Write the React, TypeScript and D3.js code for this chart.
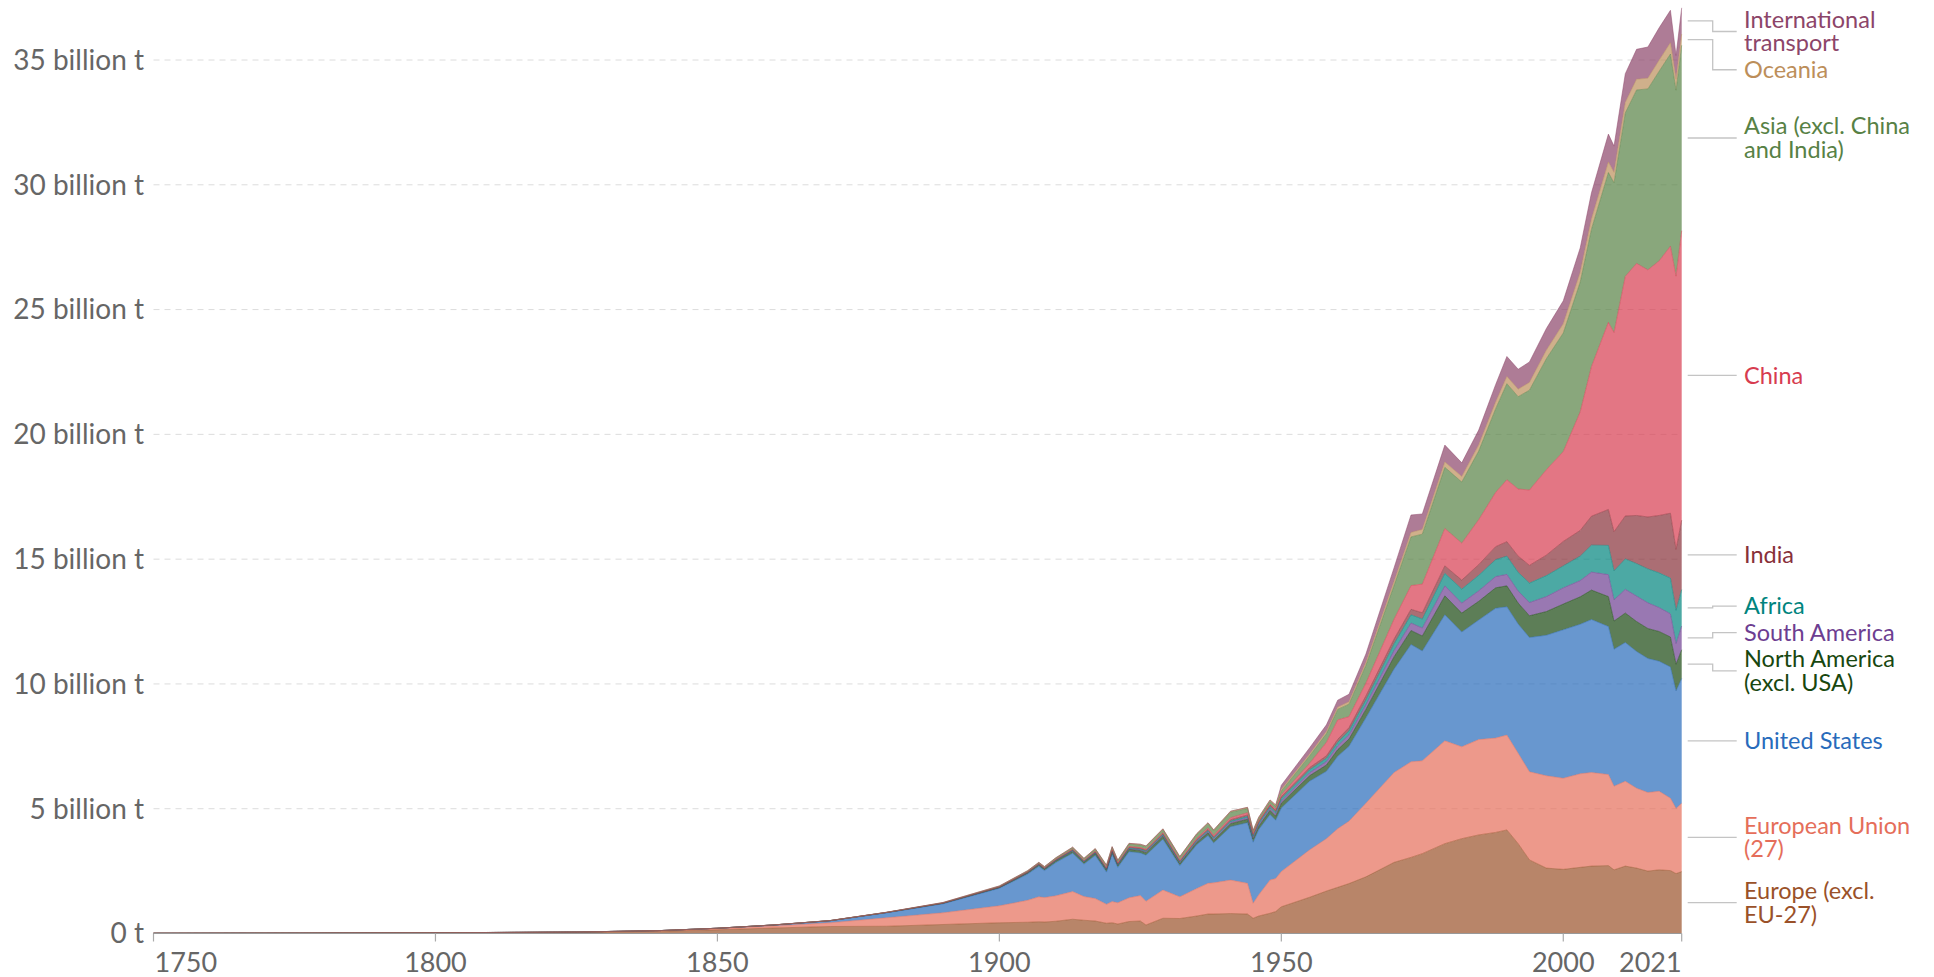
import React, { useEffect, useRef } from "react";
import * as d3 from "d3";

// yearly CO2 emissions by world region, billion tonnes
const years = [
  1750, 1775, 1800, 1825, 1840, 1850, 1860, 1870, 1880, 1890, 1900, 1905, 1907, 1908, 1910, 1913,
  1915, 1917, 1919, 1920, 1921, 1923, 1925, 1926, 1929, 1932, 1935, 1937, 1938, 1941, 1944, 1945,
  1946, 1948, 1949, 1950, 1955, 1958, 1960, 1962, 1965, 1970, 1973, 1975, 1979, 1982, 1985, 1988,
  1990, 1992, 1994, 1997, 2000, 2003, 2005, 2008, 2009, 2011, 2013, 2015, 2017, 2019, 2020, 2021,
];

const europeExclEU = [
  0.009, 0.014, 0.027, 0.05, 0.09, 0.15, 0.22, 0.28, 0.29, 0.36, 0.43, 0.45, 0.47, 0.46, 0.49, 0.57,
  0.53, 0.5, 0.41, 0.43, 0.38, 0.48, 0.5, 0.34, 0.61, 0.6, 0.7, 0.78, 0.78, 0.8, 0.78, 0.61,
  0.7, 0.81, 0.88, 1.07, 1.45, 1.7, 1.85, 2.0, 2.27, 2.85, 3.05, 3.2, 3.6, 3.8, 3.95, 4.05,
  4.15, 3.6, 2.95, 2.62, 2.57, 2.65, 2.7, 2.72, 2.55, 2.7, 2.62, 2.5, 2.55, 2.52, 2.4, 2.48,
];
const europeanUnion = [
  0, 0.001, 0.002, 0.006, 0.02, 0.04, 0.08, 0.15, 0.34, 0.47, 0.68, 0.88, 1.0, 0.98, 1.02, 1.11,
  0.95, 0.9, 0.76, 0.85, 0.85, 0.95, 1.02, 0.95, 1.13, 0.87, 1.1, 1.23, 1.25, 1.34, 1.23, 0.6,
  0.85, 1.33, 1.32, 1.41, 1.9, 2.1, 2.35, 2.5, 2.95, 3.6, 3.83, 3.72, 4.12, 3.68, 3.82, 3.78,
  3.8, 3.62, 3.53, 3.7, 3.65, 3.75, 3.75, 3.65, 3.35, 3.4, 3.2, 3.15, 3.15, 2.9, 2.61, 2.74,
];
const unitedStates = [
  0, 0.0003, 0.0006, 0.002, 0.008, 0.02, 0.04, 0.08, 0.2, 0.36, 0.7, 1.05, 1.22, 1.08, 1.33, 1.54,
  1.3, 1.73, 1.29, 1.89, 1.42, 1.85, 1.71, 1.85, 2.04, 1.25, 1.76, 1.92, 1.6, 2.14, 2.43, 2.45,
  2.62, 2.63, 2.34, 2.55, 2.75, 2.7, 2.9, 3.0, 3.42, 4.15, 4.7, 4.4, 5.05, 4.6, 4.79, 5.2,
  5.14, 5.18, 5.38, 5.63, 5.95, 5.99, 6.13, 5.93, 5.49, 5.56, 5.48, 5.37, 5.21, 5.26, 4.71, 5.0,
];
const northAmericaExclUSA = [
  0, 0, 0, 0.0002, 0.0005, 0.001, 0.002, 0.004, 0.01, 0.02, 0.03, 0.045, 0.055, 0.055, 0.065, 0.08,
  0.07, 0.085, 0.08, 0.09, 0.075, 0.095, 0.09, 0.1, 0.11, 0.08, 0.09, 0.105, 0.1, 0.12, 0.14, 0.13,
  0.13, 0.16, 0.16, 0.19, 0.22, 0.25, 0.27, 0.29, 0.34, 0.49, 0.56, 0.6, 0.76, 0.76, 0.75, 0.82,
  0.84, 0.84, 0.87, 0.95, 1.03, 1.1, 1.18, 1.2, 1.13, 1.18, 1.2, 1.2, 1.19, 1.2, 1.07, 1.15,
];
const southAmerica = [
  0, 0, 0, 0, 0, 0, 0.0005, 0.001, 0.002, 0.004, 0.008, 0.01, 0.012, 0.012, 0.014, 0.018,
  0.015, 0.015, 0.016, 0.02, 0.02, 0.025, 0.03, 0.032, 0.04, 0.035, 0.042, 0.05, 0.05, 0.055, 0.06, 0.06,
  0.065, 0.08, 0.085, 0.09, 0.12, 0.14, 0.15, 0.17, 0.19, 0.25, 0.3, 0.32, 0.4, 0.4, 0.42, 0.45,
  0.46, 0.48, 0.53, 0.6, 0.65, 0.65, 0.72, 0.88, 0.85, 0.95, 1.02, 1.03, 0.96, 0.93, 0.83, 0.95,
];
const africa = [
  0, 0, 0, 0, 0, 0, 0, 0.0005, 0.001, 0.003, 0.006, 0.01, 0.012, 0.012, 0.014, 0.02,
  0.02, 0.02, 0.022, 0.025, 0.024, 0.027, 0.03, 0.032, 0.035, 0.03, 0.037, 0.042, 0.045, 0.05, 0.055, 0.055,
  0.06, 0.07, 0.075, 0.1, 0.12, 0.13, 0.14, 0.16, 0.19, 0.27, 0.33, 0.36, 0.5, 0.56, 0.62, 0.68,
  0.73, 0.75, 0.78, 0.84, 0.88, 0.98, 1.08, 1.17, 1.16, 1.22, 1.3, 1.36, 1.39, 1.43, 1.33, 1.46,
];
const india = [
  0, 0, 0, 0, 0, 0, 0, 0.001, 0.002, 0.005, 0.01, 0.015, 0.017, 0.018, 0.02, 0.022,
  0.025, 0.027, 0.03, 0.033, 0.032, 0.033, 0.035, 0.037, 0.04, 0.037, 0.04, 0.045, 0.05, 0.055, 0.055, 0.055,
  0.06, 0.065, 0.065, 0.07, 0.085, 0.1, 0.12, 0.13, 0.16, 0.19, 0.22, 0.25, 0.3, 0.36, 0.43, 0.52,
  0.58, 0.65, 0.71, 0.82, 0.98, 1.03, 1.16, 1.44, 1.57, 1.72, 1.93, 2.08, 2.3, 2.6, 2.44, 2.78,
];
const china = [
  0, 0, 0, 0, 0, 0, 0, 0, 0, 0.001, 0.002, 0.005, 0.007, 0.007, 0.01, 0.015,
  0.017, 0.02, 0.022, 0.025, 0.025, 0.027, 0.03, 0.03, 0.035, 0.04, 0.05, 0.06, 0.06, 0.08, 0.09, 0.05,
  0.03, 0.04, 0.05, 0.08, 0.17, 0.54, 0.78, 0.44, 0.51, 0.8, 0.95, 1.15, 1.5, 1.48, 1.8, 2.17,
  2.48, 2.69, 3.02, 3.42, 3.6, 4.75, 6.0, 7.5, 7.98, 9.6, 10.1, 9.9, 10.2, 10.7, 10.95, 11.6,
];
const asiaExcl = [
  0, 0, 0, 0, 0, 0, 0.001, 0.002, 0.003, 0.01, 0.025, 0.035, 0.04, 0.04, 0.05, 0.06,
  0.065, 0.08, 0.085, 0.09, 0.085, 0.095, 0.1, 0.105, 0.12, 0.115, 0.15, 0.17, 0.18, 0.22, 0.17, 0.08,
  0.1, 0.11, 0.12, 0.15, 0.3, 0.35, 0.42, 0.5, 0.72, 1.35, 1.95, 2.0, 2.45, 2.45, 2.75, 3.35,
  3.85, 3.7, 4.0, 4.45, 4.75, 5.2, 5.5, 6.0, 6.0, 6.55, 6.95, 7.25, 7.6, 7.7, 7.45, 7.43,
];
const oceania = [
  0, 0, 0, 0, 0, 0.0005, 0.001, 0.002, 0.004, 0.01, 0.015, 0.017, 0.018, 0.018, 0.02, 0.025,
  0.022, 0.024, 0.025, 0.027, 0.026, 0.03, 0.032, 0.032, 0.033, 0.027, 0.032, 0.035, 0.036, 0.04, 0.045, 0.045,
  0.048, 0.055, 0.057, 0.06, 0.07, 0.08, 0.09, 0.095, 0.11, 0.16, 0.18, 0.19, 0.21, 0.22, 0.24, 0.27,
  0.29, 0.3, 0.31, 0.34, 0.37, 0.39, 0.41, 0.42, 0.42, 0.42, 0.43, 0.43, 0.44, 0.45, 0.44, 0.45,
];
const internationalTransport = [
  0, 0, 0, 0, 0, 0, 0, 0, 0, 0, 0, 0, 0, 0, 0, 0,
  0, 0, 0, 0, 0, 0, 0, 0, 0, 0, 0, 0, 0, 0, 0, 0,
  0, 0, 0, 0.17, 0.25, 0.27, 0.28, 0.3, 0.34, 0.55, 0.7, 0.62, 0.68, 0.55, 0.6, 0.7,
  0.8, 0.8, 0.82, 0.87, 0.92, 0.98, 1.05, 1.12, 1.05, 1.15, 1.2, 1.25, 1.3, 1.3, 0.95, 1.05,
];

// bottom to top
const seriesKeys = [
  "europeExclEU", "europeanUnion", "unitedStates", "northAmericaExclUSA", "southAmerica",
  "africa", "india", "china", "asiaExcl", "oceania", "internationalTransport",
];
const seriesValues = [
  europeExclEU, europeanUnion, unitedStates, northAmericaExclUSA, southAmerica,
  africa, india, china, asiaExcl, oceania, internationalTransport,
];
const seriesLabels = [
  ["Europe (excl.", "EU-27)"],
  ["European Union", "(27)"],
  ["United States"],
  ["North America", "(excl. USA)"],
  ["South America"],
  ["Africa"],
  ["India"],
  ["China"],
  ["Asia (excl. China", "and India)"],
  ["Oceania"],
  ["International", "transport"],
];
const seriesColors = [
  "#9A5129", "#E56E5A", "#286BBB", "#18470F", "#6D3E91",
  "#00847E", "#883039", "#D73C50", "#578145", "#BC8E5A", "#8C4569",
];

const yTicks = [0, 5, 10, 15, 20, 25, 30, 35];
const xTicks = [1750, 1800, 1850, 1900, 1950, 2000, 2021];

const width = 1934;
const height = 977;

const App = () => {
  const svgRef = useRef<SVGSVGElement | null>(null);

  useEffect(() => {
    drawChart();
  }, []);

  const drawChart = () => {
    const svg = d3.select(svgRef.current);
    svg.selectAll("*").remove();

    const plotLeft = 153.5;
    const plotRight = 1681.7;
    const x = d3.scaleLinear().domain([1750, 2021]).range([plotLeft, plotRight]);
    const y = d3.scaleLinear().domain([0, 35]).range([933.5, 60]);

    const rows = years.map((yr, i) => {
      const row: any = { year: yr };
      seriesKeys.forEach((k, j) => (row[k] = seriesValues[j][i]));
      return row;
    });
    const series = d3.stack().keys(seriesKeys)(rows);

    // grid
    svg
      .append("g")
      .selectAll("line")
      .data(yTicks.filter((t) => t > 0))
      .join("line")
      .attr("x1", plotLeft)
      .attr("x2", plotRight)
      .attr("y1", (d) => y(d))
      .attr("y2", (d) => y(d))
      .attr("stroke", "#dcdcdc")
      .attr("stroke-width", 1)
      .attr("stroke-dasharray", "6,5");

    const area = d3
      .area<any>()
      .x((d) => x(d.data.year))
      .y0((d) => y(d[0]))
      .y1((d) => y(d[1]));
    const topLine = d3
      .line<any>()
      .x((d) => x(d.data.year))
      .y((d) => y(d[1]));

    const g = svg.append("g");
    g.selectAll("path.area")
      .data(series)
      .join("path")
      .attr("class", "area")
      .attr("fill", (d, i) => seriesColors[i])
      .attr("fill-opacity", 0.7)
      .attr("d", area);
    g.selectAll("path.edge")
      .data(series)
      .join("path")
      .attr("class", "edge")
      .attr("fill", "none")
      .attr("stroke", (d, i) => seriesColors[i])
      .attr("stroke-opacity", 0.55)
      .attr("stroke-width", 0.9)
      .attr("d", topLine);

    // y axis labels
    svg
      .append("g")
      .selectAll("text")
      .data(yTicks)
      .join("text")
      .attr("x", 144)
      .attr("y", (d) => y(d))
      .attr("dy", "0.35em")
      .attr("text-anchor", "end")
      .attr("font-family", "Lato, sans-serif")
      .attr("font-size", 28)
      .attr("fill", "#666")
      .text((d) => (d === 0 ? "0 t" : `${d} billion t`));

    // x axis
    const base = y(0);
    svg
      .append("line")
      .attr("x1", plotLeft)
      .attr("x2", plotRight)
      .attr("y1", base)
      .attr("y2", base)
      .attr("stroke", "#999")
      .attr("stroke-width", 1);
    svg
      .append("g")
      .selectAll("line")
      .data(xTicks)
      .join("line")
      .attr("x1", (d) => x(d))
      .attr("x2", (d) => x(d))
      .attr("y1", base)
      .attr("y2", base + 8)
      .attr("stroke", "#aaa")
      .attr("stroke-width", 1.2);
    svg
      .append("g")
      .selectAll("text")
      .data(xTicks)
      .join("text")
      .attr("x", (d) => (d === 1750 ? x(d) + 1 : x(d)))
      .attr("y", 971.5)
      .attr("text-anchor", (d) => (d === 1750 ? "start" : d === 2021 ? "end" : "middle"))
      .attr("font-family", "Lato, sans-serif")
      .attr("font-size", 27)
      .attr("fill", "#666")
      .text((d) => d);

    // end labels, pushed apart so they do not overlap
    const lineH = 23.5;
    const gap = 3;
    const items = series.map((s, i) => {
      const last = s[s.length - 1];
      const mid = y((last[0] + last[1]) / 2);
      const lines = seriesLabels[i];
      return { i, mid, pos: mid, h: lines.length * lineH, lines };
    });
    const sorted = [...items].sort((a, b) => a.mid - b.mid);
    for (let it = 0; it < 300; it++) {
      for (let k = 1; k < sorted.length; k++) {
        const a = sorted[k - 1];
        const b = sorted[k];
        const overlap = a.pos + a.h / 2 + gap - (b.pos - b.h / 2);
        if (overlap > 0) {
          a.pos -= overlap / 2;
          b.pos += overlap / 2;
        }
      }
      const first = sorted[0];
      if (first.pos - first.h / 2 < 8) first.pos = 8 + first.h / 2;
    }

    const x0 = plotRight + 6;
    const elbow = plotRight + 31;
    const x1 = plotRight + 55;
    const lg = svg.append("g");
    items.forEach((d) => {
      lg.append("path")
        .attr("d", `M${x0},${d.mid}H${elbow}V${d.pos}H${x1}`)
        .attr("fill", "none")
        .attr("stroke", "#c4c4c4")
        .attr("stroke-width", 1.3);
      const t = lg
        .append("text")
        .attr("font-family", "Lato, sans-serif")
        .attr("font-size", 23.5)
        .attr("fill", seriesColors[d.i]);
      d.lines.forEach((ln, j) => {
        t.append("tspan")
          .attr("x", 1744)
          .attr("y", d.pos - ((d.lines.length - 1) * lineH) / 2 + j * lineH)
          .attr("dy", "0.35em")
          .text(ln);
      });
    });
  };

  return (
    <svg
      ref={svgRef}
      width={width}
      height={height}
      style={{ position: "absolute", left: 0, top: 0, display: "block", background: "#fff" }}
    />
  );
};

export default App;
